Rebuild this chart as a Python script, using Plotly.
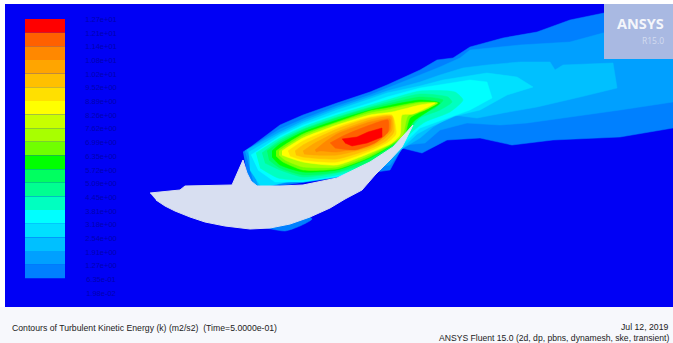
import plotly.graph_objects as go

# Legend: colour bands (top to bottom) and contour level labels
band_colors = ["#ff0000", "#ff6000", "#ff8800", "#ffa500", "#ffc000", "#ffe000", "#ffff00",
               "#c8ff00", "#a8ff00", "#70ff00", "#00ff00", "#00ff60", "#00ff90", "#00ffc0",
               "#00ffff", "#00e0ff", "#00c0ff", "#00a0ff", "#0080ff"]
level_labels = ["1.27e+01", "1.21e+01", "1.14e+01", "1.08e+01", "1.02e+01", "9.52e+00", "8.89e+00",
                "8.26e+00", "7.62e+00", "6.99e+00", "6.35e+00", "5.72e+00", "5.09e+00", "4.45e+00",
                "3.81e+00", "3.18e+00", "2.54e+00", "1.91e+00", "1.27e+00", "6.35e-01", "1.98e-02"]

# Contour regions, outermost first
c0080_x = [243, 252, 280, 303, 337, 370, 387, 420, 437, 453, 470, 503, 537, 570, 604, 673, 673, 620, 553, 512, 480, 447, 422, 402, 390, 250]
c0080_y = [152, 146, 125, 115, 103, 92, 85, 70, 60, 58, 47, 38, 32, 20, 13, 5, 128, 137, 140, 145, 138, 140, 153, 148, 170, 190]
c0080b_x = [262, 285, 300, 312, 300, 270]
c0080b_y = [227, 231, 226, 219, 212, 215]
c00a0_x = [245, 280, 303, 337, 370, 387, 420, 440, 460, 470, 520, 570, 603, 673, 673, 620, 570, 527, 500, 467, 440, 425, 405, 390, 255]
c00a0_y = [151, 129, 119, 106, 95, 88, 75, 67, 58, 50, 45, 42, 33, 20, 102, 110, 117, 123, 125, 123, 130, 143, 145, 165, 188]
c00c0_x = [247, 280, 303, 337, 370, 387, 420, 440, 463, 487, 520, 550, 555, 563, 613, 617, 580, 537, 503, 477, 453, 433, 420, 400, 258]
c00c0_y = [150, 132, 121, 108, 97, 91, 82, 75, 68, 65, 62, 62, 70, 65, 63, 88, 97, 107, 113, 118, 115, 127, 138, 150, 186]
c00e0_x = [249, 280, 303, 337, 370, 387, 420, 443, 487, 517, 533, 507, 480, 455, 430, 417, 395, 262, 250]
c00e0_y = [152, 134, 123, 110, 99, 93, 86, 80, 73, 77, 87, 95, 110, 116, 127, 134, 155, 188, 170]
c00ff_x = [251, 280, 303, 337, 370, 387, 420, 470, 487, 492, 470, 450, 430, 420, 395, 370, 337, 303, 275, 258]
c00ff_y = [155, 136, 125, 113, 103, 97, 88, 80, 82, 98, 110, 117, 124, 128, 152, 167, 177, 182, 182, 170]
c00c8_x = [256, 280, 303, 337, 370, 387, 420, 455, 463, 450, 425, 412, 400, 370, 337, 303, 278, 260]
c00c8_y = [153, 138, 127, 115, 105, 100, 91, 92, 100, 112, 122, 132, 145, 165, 175, 180, 178, 168]
c0090_x = [262, 280, 303, 337, 370, 387, 420, 448, 452, 440, 420, 410, 395, 370, 337, 303, 280, 265]
c0090_y = [153, 140, 129, 117, 107, 102, 94, 97, 102, 110, 118, 130, 148, 163, 173, 177, 170, 163]
c0060_x = [267, 280, 303, 337, 370, 387, 420, 443, 435, 418, 410, 393, 370, 337, 303, 280, 269]
c0060_y = [151, 142, 130, 118, 108, 104, 97, 100, 108, 116, 130, 147, 161, 172, 175, 168, 160]
c00ff00_x = [272, 280, 303, 337, 370, 387, 420, 440, 430, 413, 407, 391, 370, 337, 303, 280, 272]
c00ff00_y = [151, 144, 132, 120, 110, 106, 100, 103, 110, 122, 132, 146, 158, 170, 172, 165, 157]
c70ff_x = [276, 283, 303, 337, 370, 387, 420, 438, 425, 410, 404, 370, 337, 303, 283, 276]
c70ff_y = [151, 146, 134, 122, 111, 108, 102, 103, 110, 118, 136, 157, 169, 170, 162, 156]
ca8ff_x = [279, 285, 303, 337, 370, 387, 420, 437, 425, 408, 402, 370, 337, 303, 285, 279]
ca8ff_y = [151, 147, 136, 123, 113, 110, 103, 103, 110, 116, 136, 155, 167, 167, 160, 155]
cffff_x = [282, 288, 303, 337, 370, 392, 420, 435, 413, 402, 400, 392, 370, 337, 303, 287, 282]
cffff_y = [151, 147, 138, 125, 115, 112, 105, 103, 114, 115, 135, 143, 153, 165, 162, 157, 155]
cffe0_x = [288, 303, 337, 370, 392, 396, 388, 370, 337, 303, 290]
cffe0_y = [151, 141, 127, 117, 115, 134, 142, 151, 162, 160, 156]
cffc0_x = [295, 303, 337, 370, 392, 394, 386, 370, 337, 303, 296]
cffc0_y = [151, 145, 129, 118, 116, 132, 141, 149, 159, 157, 155]
cffa5_x = [303, 315, 337, 370, 391, 392, 384, 370, 337, 315, 304]
cffa5_y = [151, 143, 132, 120, 117, 130, 139, 147, 155, 155, 154]
cff88_x = [315, 325, 337, 370, 390, 390, 382, 370, 337, 320, 316]
cff88_y = [150, 142, 134, 122, 119, 130, 137, 145, 152, 151, 152]
cff60_x = [330, 345, 370, 388, 388, 375, 355, 335]
cff60_y = [143, 135, 125, 120, 132, 143, 150, 148]
cff00_x = [342, 357, 368, 382, 382, 367, 352, 345]
cff00_y = [139, 137, 132, 128, 137, 143, 146, 143]

regions = [("#0080ff", c0080_x, c0080_y, "linear"), ("#0080ff", c0080b_x, c0080b_y, "spline"),
           ("#00a0ff", c00a0_x, c00a0_y, "linear"), ("#00c0ff", c00c0_x, c00c0_y, "linear"),
           ("#00e0ff", c00e0_x, c00e0_y, "linear"), ("#00ffff", c00ff_x, c00ff_y, "linear"),
           ("#00ffc0", c00c8_x, c00c8_y, "spline"), ("#00ff90", c0090_x, c0090_y, "spline"),
           ("#00ff60", c0060_x, c0060_y, "spline"), ("#00ff00", c00ff00_x, c00ff00_y, "spline"),
           ("#70ff00", c70ff_x, c70ff_y, "spline"), ("#a8ff00", ca8ff_x, ca8ff_y, "spline"),
           ("#ffff00", cffff_x, cffff_y, "spline"), ("#ffe000", cffe0_x, cffe0_y, "spline"),
           ("#ffc000", cffc0_x, cffc0_y, "spline"), ("#ffa500", cffa5_x, cffa5_y, "spline"),
           ("#ff8800", cff88_x, cff88_y, "spline"), ("#ff6000", cff60_x, cff60_y, "spline"),
           ("#ff0000", cff00_x, cff00_y, "linear")]

# Hull section outline
hull_x = [150, 180, 185, 232, 243, 247, 251, 257, 280, 303, 337, 370, 393, 413,
          402, 390, 375, 362, 345, 330, 310, 290, 270, 250, 225, 205, 190, 175, 165, 156]
hull_y = [193, 190, 186, 185, 160, 173, 181, 186, 186, 185, 178, 162, 147, 125,
          147, 160, 175, 190, 199, 208, 217, 224, 228, 229, 226, 222, 217, 211, 206, 200]

title_text = "Contours of Turbulent Kinetic Energy (k) (m2/s2)  (Time=5.0000e-01)"
date_text = "Jul 12, 2019"
solver_text = "ANSYS Fluent 15.0 (2d, dp, pbns, dynamesh, ske, transient)"

BLUE = "#0000f5"
BAND_H = 13.65
BAR_TOP = 19

fig = go.Figure()

for color, xs, ys, shape in regions:
    fig.add_trace(go.Scatter(x=xs, y=ys, mode="lines", fill="toself", fillcolor=color,
                             line=dict(color=color, width=0.5, shape=shape, smoothing=0.6),
                             hoverinfo="skip", showlegend=False))

fig.add_trace(go.Scatter(x=hull_x, y=hull_y, mode="lines", fill="toself", fillcolor="#d8dff1",
                         line=dict(color="#d8dff1", width=1), hoverinfo="skip", showlegend=False))

fig.add_trace(go.Bar(x=[45] * len(band_colors), y=[BAND_H] * len(band_colors),
                     base=[BAR_TOP + i * BAND_H for i in range(len(band_colors))],
                     width=40, marker=dict(color=band_colors, line=dict(width=0)),
                     hoverinfo="skip", showlegend=False))

fig.add_trace(go.Scatter(x=[101] * len(level_labels),
                         y=[BAR_TOP + 1 + i * 13.7 for i in range(len(level_labels))],
                         mode="text", text=level_labels, textposition="middle center",
                         textfont=dict(family="Liberation Sans", size=7.5, color="#0000b0"),
                         hoverinfo="skip", showlegend=False))

shapes = [
    dict(type="rect", x0=5, x1=673, y0=4, y1=307, fillcolor=BLUE, line=dict(width=0), layer="below"),
    dict(type="rect", x0=0, x1=673, y0=307, y1=343, fillcolor="#f7f8fc", line=dict(width=0), layer="below"),
    dict(type="rect", x0=604, x1=673, y0=4, y1=59, fillcolor="#a9b9e2", line=dict(width=0), layer="above"),
]
annotations = [
    dict(x=666, y=23, text="<b>ANSYS</b>", xanchor="right", yanchor="middle", showarrow=False,
         font=dict(family="Open Sans", size=14.5, color="#f4f6fb"), xref="x", yref="y"),
    dict(x=666, y=40, text="R15.0", xanchor="right", yanchor="middle", showarrow=False,
         font=dict(family="Open Sans", size=8.5, color="#d3dcf0"), xref="x", yref="y"),
    dict(x=10, y=328, text=title_text, xanchor="left", yanchor="middle", showarrow=False,
         font=dict(family="Liberation Sans", size=8.7, color="#222222"), xref="x", yref="y"),
    dict(x=671, y=327, text=date_text, xanchor="right", yanchor="middle", showarrow=False,
         font=dict(family="Liberation Sans", size=8.7, color="#222222"), xref="x", yref="y"),
    dict(x=671, y=338, text=solver_text, xanchor="right", yanchor="middle", showarrow=False,
         font=dict(family="Liberation Sans", size=8.6, color="#222222"), xref="x", yref="y"),
]

fig.update_layout(width=673, height=343, margin=dict(l=0, r=0, t=0, b=0),
                  paper_bgcolor="#ffffff", plot_bgcolor="rgba(0,0,0,0)",
                  xaxis=dict(range=[0, 673], visible=False, fixedrange=True),
                  yaxis=dict(range=[343, 0], visible=False, fixedrange=True),
                  shapes=shapes, annotations=annotations, barmode="overlay", showlegend=False)

fig.write_html("out.html", config={"displayModeBar": False},
               post_script="document.body.style.margin='0';document.body.style.overflow='hidden';")
